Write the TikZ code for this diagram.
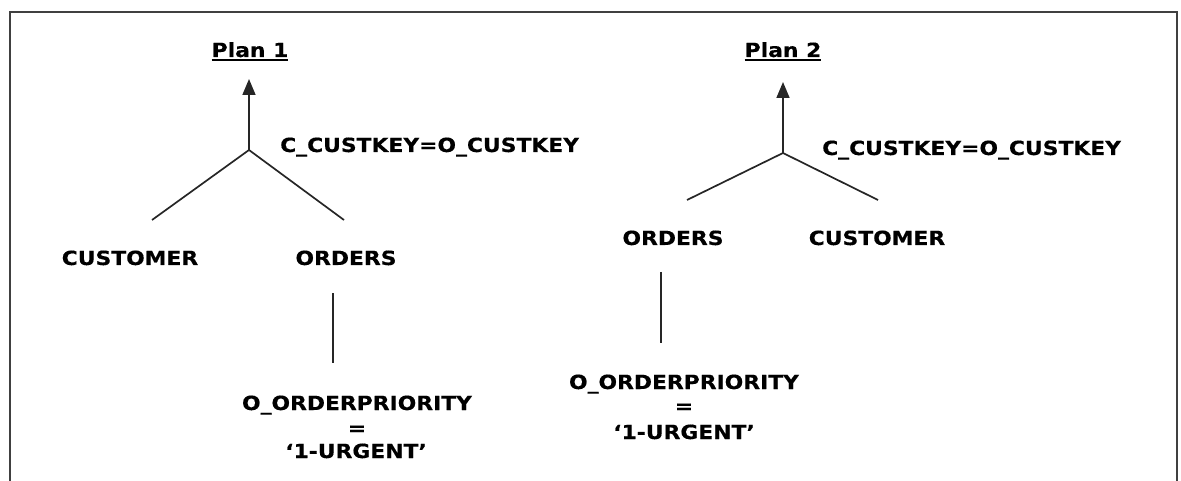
\documentclass[tikz,border=0pt]{standalone}
\usepackage{fontspec}
\usetikzlibrary{arrows.meta}
\newfontfamily\labelfont[FakeStretch=1.12,FakeBold=0.4]{DejaVu Sans Bold}
\begin{document}
\begin{tikzpicture}[x=1pt,y=-1pt,
  lbl/.style={font=\labelfont\fontsize{19.5}{22}\selectfont, inner sep=0pt, anchor=base},
  edge/.style={line width=1.7pt, black!85},
  uline/.style={line width=1.6pt, black},
  uparrow/.style={edge, -{Triangle[length=16pt,width=13pt]}},
  frameline/.style={line width=2.2pt, black!75}]
\useasboundingbox (0,0) rectangle (1181,481);
% open frame around both plans
\draw[frameline] (10,481) -- (10,12) -- (1177,12) -- (1177,481);

% ---------- Plan 1 ----------
\node[lbl] (t1) at (250,57) {Plan 1};
\draw[uline] ([yshift=-3pt]t1.base west) -- ([yshift=-3pt]t1.base east);
\coordinate (j1) at (249,150);
\coordinate (top1) at (249,79);
\coordinate (l1) at (152,220);
\coordinate (r1) at (344,220);
\draw[uparrow] (j1) -- (top1);
\draw[edge] (l1) -- (j1) -- (r1);
\node[lbl, anchor=base west] (k1) at (280,152) {C\_CUSTKEY=O\_CUSTKEY};
\node[lbl] (c1) at (130,265) {CUSTOMER};
\node[lbl] (o1) at (346,265) {ORDERS};
\coordinate (s1a) at (333,293);
\coordinate (s1b) at (333,363);
\draw[edge] (s1a) -- (s1b);
\node[lbl] (p1) at (357,410) {O\_ORDERPRIORITY};
\node[lbl] (e1) at (357,435) {=};
\node[lbl] (u1) at (356,458) {‘1-URGENT’};

% ---------- Plan 2 ----------
\node[lbl] (t2) at (783,57) {Plan 2};
\draw[uline] ([yshift=-3pt]t2.base west) -- ([yshift=-3pt]t2.base east);
\coordinate (j2) at (783,153);
\coordinate (top2) at (783,82);
\coordinate (l2) at (687,200);
\coordinate (r2) at (878,200);
\draw[uparrow] (j2) -- (top2);
\draw[edge] (l2) -- (j2) -- (r2);
\node[lbl, anchor=base west] (k2) at (822,155) {C\_CUSTKEY=O\_CUSTKEY};
\node[lbl] (o2) at (673,245) {ORDERS};
\node[lbl] (c2) at (877,245) {CUSTOMER};
\coordinate (s2a) at (661,272);
\coordinate (s2b) at (661,343);
\draw[edge] (s2a) -- (s2b);
\node[lbl] (p2) at (684,389) {O\_ORDERPRIORITY};
\node[lbl] (e2) at (684,413) {=};
\node[lbl] (u2) at (684,439) {‘1-URGENT’};
\end{tikzpicture}
\end{document}
